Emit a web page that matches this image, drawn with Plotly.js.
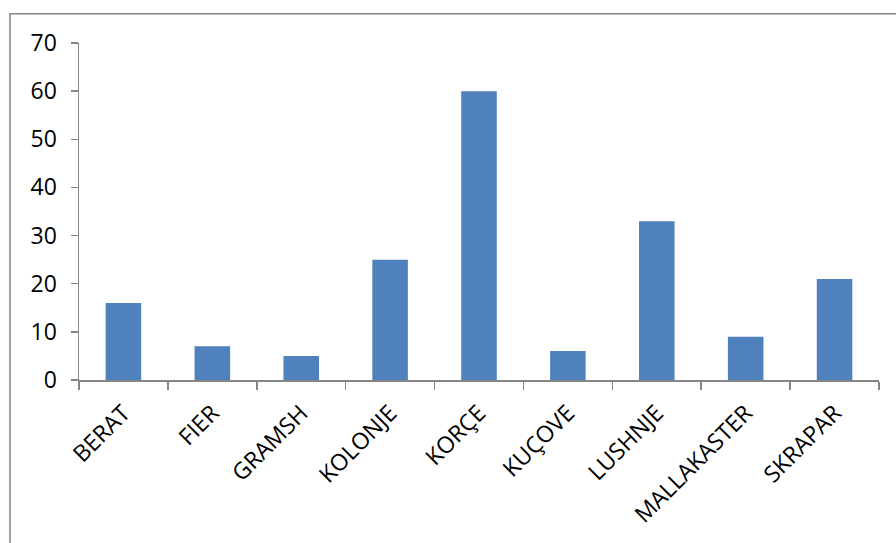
<!DOCTYPE html>
<html>
<head>
<meta charset="utf-8">
<script src="https://cdn.plot.ly/plotly-3.0.1.min.js"></script>
<style>html,body{margin:0;padding:0;background:#fff;}#chart{width:896px;height:543px;}</style>
</head>
<body>
<div id="chart"></div>
<script>
const categories = ["BERAT", "FIER", "GRAMSH", "KOLONJE", "KORÇE", "KUÇOVE", "LUSHNJE", "MALLAKASTER", "SKRAPAR"];
const values = [16, 7, 5, 25, 60, 6, 33, 9, 21];
const yTicks = [0, 10, 20, 30, 40, 50, 60, 70];

const axisColor = "#868686";
const fam = "Open Sans, Lato, sans-serif";

Plotly.newPlot("chart", [{
  type: "bar",
  x: categories,
  y: values,
  marker: {color: "#4F81BD"},
  width: 0.4,
  hoverinfo: "x+y"
}], {
  width: 896, height: 543,
  margin: {l: 79, r: 17, t: 43, b: 163},
  paper_bgcolor: "#fff", plot_bgcolor: "#fff",
  showlegend: false,
  font: {family: fam, size: 22, color: "#000"},
  xaxis: {
    type: "category",
    showline: true, linecolor: axisColor, linewidth: 1.5,
    ticks: "outside", tickson: "boundaries", ticklen: 8, tickcolor: axisColor, tickwidth: 1.5,
    tickangle: -45, tickfont: {family: fam, size: 23, color: "#000"}, showgrid: false, zeroline: false,
    ticklabelstandoff: 9, automargin: false
  },
  yaxis: {
    range: [0, 70], tickvals: yTicks, ticktext: yTicks.map(String),
    showline: true, linecolor: axisColor, linewidth: 1.5,
    ticks: "outside", ticklen: 7, tickcolor: axisColor, tickwidth: 1.5,
    tickfont: {family: fam, size: 23, color: "#000"}, showgrid: false, zeroline: false, fixedrange: true,
    ticklabelstandoff: 9, automargin: false
  },
  shapes: [{
    type: "rect", xref: "paper", yref: "paper",
    x0: -0.08625, x1: 1.03, y0: -0.52, y1: 1.087,
    line: {color: axisColor, width: 1.5}, fillcolor: "rgba(0,0,0,0)", layer: "below"
  }]
}, {displayModeBar: false, staticPlot: true});
</script>
</body>
</html>
